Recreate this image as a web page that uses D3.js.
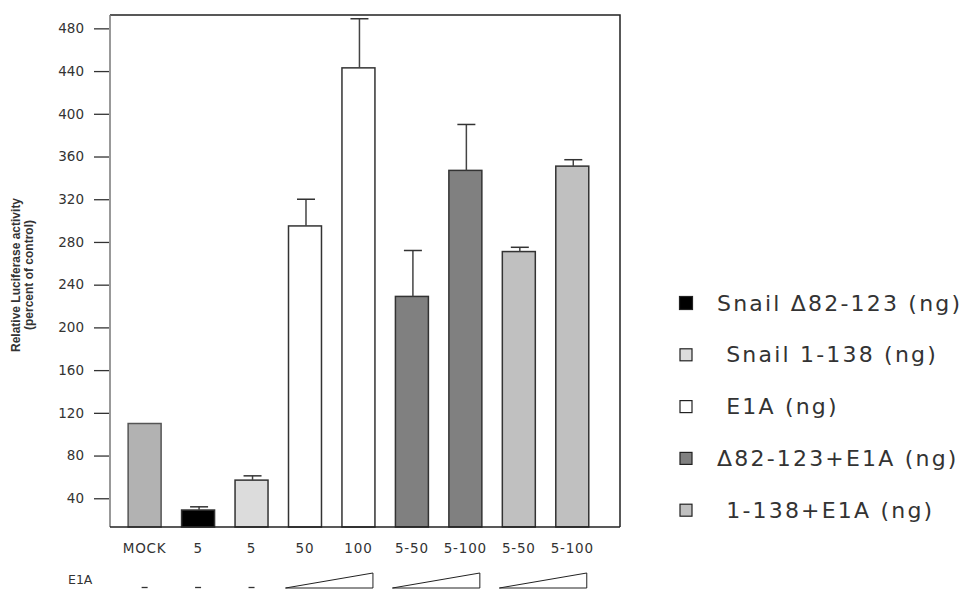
<!DOCTYPE html>
<html>
<head>
<meta charset="utf-8">
<script src="https://cdn.jsdelivr.net/npm/d3@7"></script>
<style>
  body { margin: 0; background: #fff; }
  svg { display: block; }
  text { font-family: "DejaVu Sans", Verdana, sans-serif; fill: #333; }
</style>
</head>
<body>
<div id="chart"></div>
<script>
// values (percent of control)
const categories = ["MOCK", "5", "5", "50", "100", "5-50", "5-100", "5-50", "5-100"];
const values = [110, 29, 57, 295, 443, 229, 347, 271, 351];
const errors = [0, 3, 4, 25, 46, 43, 43, 4, 6];
// which fill each bar uses (index into barColors)
const barGroup = [0, 1, 2, 3, 3, 4, 4, 5, 5];
const barColors = ["#b2b2b2", "#000000", "#dcdcdc", "#ffffff", "#808080", "#c0c0c0"];
const yTicks = [40, 80, 120, 160, 200, 240, 280, 320, 360, 400, 440, 480];
const legendLabels = ["Snail \u039482-123 (ng)", " Snail 1-138 (ng)", " E1A (ng)", "\u039482-123+E1A (ng)", " 1-138+E1A (ng)"];
const legendColors = ["#000000", "#dcdcdc", "#ffffff", "#808080", "#c0c0c0"];
// E1A row: "-" under single bars, ramps spanning bar pairs
const e1aDashes = [0, 1, 2];
const e1aRamps = [[3, 4], [5, 6], [7, 8]];

const W = 967, H = 589;
const plot = {left: 110, right: 620, top: 15, bottom: 527};

const svg = d3.select("#chart").append("svg")
    .attr("width", W)
    .attr("height", H);

const yScale = d3.scaleLinear()
    .domain([13.1, 492.5])
    .range([plot.bottom, plot.top]);

const xScale = d3.scaleBand()
    .domain(d3.range(categories.length))
    .range([101.4, 615.5])
    .paddingInner(0.383)
    .paddingOuter(0.5);

// frame: top and right border
svg.append("path")
    .attr("d", `M${plot.left},${plot.top}H${plot.right}V${plot.bottom}`)
    .attr("fill", "none")
    .attr("stroke", "#222")
    .attr("stroke-width", 1.5);

// y axis
const yAxisG = svg.append("g")
    .attr("transform", `translate(${plot.left - 1},0)`)
    .call(d3.axisLeft(yScale).tickValues(yTicks).tickSize(15).tickPadding(10).tickSizeOuter(0));
yAxisG.attr("font-family", null).attr("font-size", null);
yAxisG.select(".domain").remove();
yAxisG.selectAll(".tick line").attr("stroke", "#333").attr("stroke-width", 1.3);
yAxisG.selectAll(".tick text")
    .style("font-family", '"DejaVu Sans", Verdana, sans-serif')
    .style("font-size", "13.5px")
    .attr("fill", "#333");

svg.append("line")
    .attr("x1", plot.left).attr("x2", plot.left)
    .attr("y1", plot.top).attr("y2", plot.bottom)
    .attr("stroke", "#777").attr("stroke-width", 1.5);

// bars
svg.selectAll(".bar")
    .data(values)
    .join("rect")
    .attr("class", "bar")
    .attr("x", (d, i) => xScale(i))
    .attr("width", xScale.bandwidth())
    .attr("y", d => yScale(d))
    .attr("height", d => plot.bottom - yScale(d))
    .attr("fill", (d, i) => barColors[barGroup[i]])
    .attr("stroke", (d, i) => i === 0 ? "#555" : "#333")
    .attr("stroke-width", 1.5);

// error bars (upper only)
const errG = svg.selectAll(".err")
    .data(values.map((v, i) => ({v: v, e: errors[i], i: i})).filter(d => d.e > 0))
    .join("g")
    .attr("class", "err");
errG.append("line")
    .attr("x1", d => xScale(d.i) + xScale.bandwidth() / 2 + 1)
    .attr("x2", d => xScale(d.i) + xScale.bandwidth() / 2 + 1)
    .attr("y1", d => yScale(d.v))
    .attr("y2", d => yScale(d.v + d.e))
    .attr("stroke", "#444").attr("stroke-width", 1.5);
errG.append("line")
    .attr("x1", d => xScale(d.i) + xScale.bandwidth() / 2 - 8)
    .attr("x2", d => xScale(d.i) + xScale.bandwidth() / 2 + 10)
    .attr("y1", d => yScale(d.v + d.e))
    .attr("y2", d => yScale(d.v + d.e))
    .attr("stroke", "#333").attr("stroke-width", 1.5);

// bottom axis line
svg.append("line")
    .attr("x1", plot.left).attr("x2", plot.right)
    .attr("y1", plot.bottom).attr("y2", plot.bottom)
    .attr("stroke", "#222").attr("stroke-width", 1.5);

// category labels
svg.selectAll(".xlabel")
    .data(categories)
    .join("text")
    .attr("class", "xlabel")
    .attr("x", (d, i) => xScale(i) + xScale.bandwidth() / 2)
    .attr("y", 548)
    .attr("text-anchor", "middle")
    .attr("dominant-baseline", "central")
    .style("font-size", "13.5px")
    .style("letter-spacing", "0.8px")
    .text(d => d);

// E1A row
svg.append("text")
    .attr("x", 68).attr("y", 579)
    .attr("dominant-baseline", "central")
    .style("font-size", "12.5px")
    .text("E1A");
// the "-" marks sit right on the bottom edge of the picture
svg.selectAll(".dash")
    .data(e1aDashes)
    .join("line")
    .attr("class", "dash")
    .attr("x1", i => xScale(i) + xScale.bandwidth() / 2 - 3)
    .attr("x2", i => xScale(i) + xScale.bandwidth() / 2 + 3)
    .attr("y1", 587.5)
    .attr("y2", 587.5)
    .attr("stroke", "#333")
    .attr("stroke-width", 1.3);
svg.selectAll(".ramp")
    .data(e1aRamps)
    .join("path")
    .attr("class", "ramp")
    .attr("d", d => {
        const x0 = xScale(d[0]) - 3;
        const x1 = xScale(d[1]) + xScale.bandwidth() - 2;
        return `M${x0},588L${x1},573V588Z`;
    })
    .attr("fill", "none")
    .attr("stroke", "#222")
    .attr("stroke-width", 1);

// y title
svg.append("text")
    .attr("transform", "translate(16,275) rotate(-90)")
    .attr("text-anchor", "middle")
    .attr("dominant-baseline", "central")
    .style("font-family", '"Liberation Sans", Arial, sans-serif')
    .style("font-weight", "bold")
    .style("font-size", "12px")
    .attr("fill", "#111")
    .text("Relative Luciferase activity");
svg.append("text")
    .attr("transform", "translate(29,275) rotate(-90)")
    .attr("text-anchor", "middle")
    .attr("dominant-baseline", "central")
    .style("font-family", '"Liberation Sans", Arial, sans-serif')
    .style("font-weight", "bold")
    .style("font-size", "12px")
    .attr("fill", "#111")
    .text("(percent of control)");

// legend
const legend = svg.selectAll(".legendItem")
    .data(legendLabels)
    .join("g")
    .attr("class", "legendItem")
    .attr("transform", (d, i) => `translate(686,${303 + i * 51.8})`);
legend.append("rect")
    .attr("x", (d, i) => i === 0 ? -6.5 : -6)
    .attr("y", (d, i) => i === 0 ? -6.5 : -6)
    .attr("width", (d, i) => i === 0 ? 13 : 12)
    .attr("height", (d, i) => i === 0 ? 13 : 12)
    .attr("fill", (d, i) => legendColors[i])
    .attr("stroke", "#222")
    .attr("stroke-width", 1.2);
legend.append("text")
    .attr("x", 31)
    .attr("y", 0)
    .attr("dominant-baseline", "central")
    .attr("xml:space", "preserve")
    .style("white-space", "pre")
    .style("font-size", "22px")
    .style("letter-spacing", "2.2px")
    .text(d => d);
</script>
</body>
</html>
